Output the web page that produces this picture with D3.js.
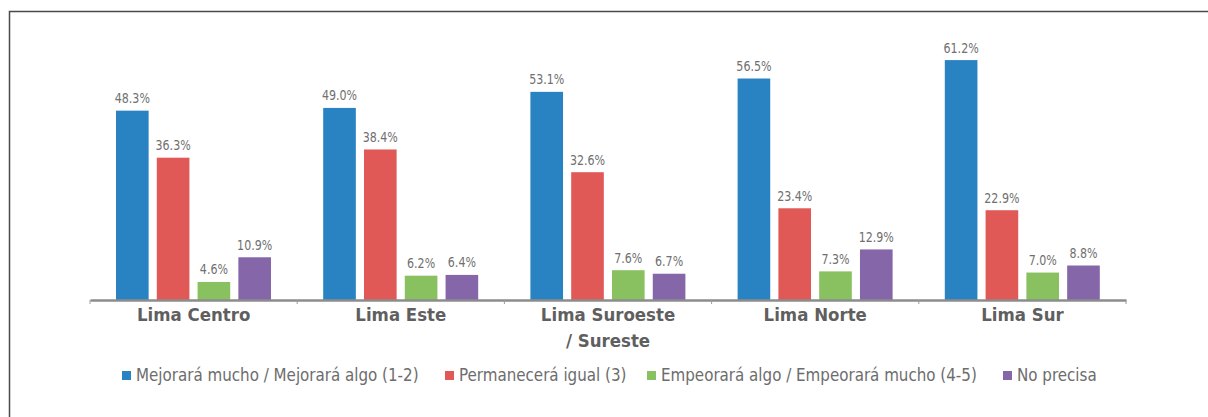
<!DOCTYPE html>
<html><head><meta charset="utf-8">
<script src="https://cdn.jsdelivr.net/npm/d3@7"></script>
<style>body{margin:0;background:#fff}svg{display:block}</style>
</head><body>
<svg id="c" width="1208" height="417"></svg>
<script>
const categories = ["Lima Centro", "Lima Este", "Lima Suroeste / Sureste", "Lima Norte", "Lima Sur"];
const categoryLines = [["Lima Centro"], ["Lima Este"], ["Lima Suroeste", "/ Sureste"], ["Lima Norte"], ["Lima Sur"]];
const seriesNames = ["Mejorará mucho / Mejorará algo (1-2)", "Permanecerá igual (3)", "Empeorará algo / Empeorará mucho (4-5)", "No precisa"];
const mejorara = [48.3, 49.0, 53.1, 56.5, 61.2];
const permanecera = [36.3, 38.4, 32.6, 23.4, 22.9];
const empeorara = [4.6, 6.2, 7.6, 7.3, 7.0];
const noPrecisa = [10.9, 6.4, 6.7, 12.9, 8.8];
const colors = ["#2983C2", "#E05956", "#8AC160", "#8566A9"];
const seriesValues = [mejorara, permanecera, empeorara, noPrecisa];

const svg = d3.select("#c");
const font = "'DejaVu Sans Condensed', 'DejaVu Sans', sans-serif";

function sqText(parent, x, y, sx, txt) {
  return parent.append("text").attr("transform", `translate(${x},${y}) scale(${sx},1)`).text(txt);
}

// frame
svg.append("rect").attr("x", 9.5).attr("y", 11.5).attr("width", 1220).attr("height", 420)
  .attr("fill", "none").attr("stroke", "#4a4a4a").attr("stroke-width", 1.5);

const baseY = 300;
const x0 = d3.scaleBand().domain(categories).range([90, 1126]).padding(0);
const x1 = d3.scaleBand().domain(d3.range(4)).range([26, 181]).paddingInner(0.2).paddingOuter(0);
const y = d3.scaleLinear().domain([0, 70]).range([baseY, baseY - 70 * 3.92]);

const groups = svg.selectAll("g.grp").data(categories).join("g")
  .attr("class", "grp").attr("transform", d => `translate(${x0(d)},0)`);

groups.each(function(cat, ci) {
  const g = d3.select(this);
  seriesValues.forEach((vals, si) => {
    const v = vals[ci];
    g.append("rect").attr("x", x1(si)).attr("y", y(v))
      .attr("width", x1.bandwidth()).attr("height", y(0) - y(v))
      .attr("fill", colors[si]);
    sqText(g, x1(si) + x1.bandwidth() / 2, y(v) - 7.5, 0.88, v.toFixed(1) + "%")
      .attr("text-anchor", "middle").attr("font-family", font).attr("font-size", 14)
      .attr("fill", "#707070");
  });
});

// axis
const axis = d3.axisBottom(x0).tickSize(0).tickFormat("");
const ax = svg.append("g").attr("transform", `translate(0,${baseY})`).call(axis);
ax.select(".domain").attr("stroke", "#8c8c8c").attr("stroke-width", 2.5);
const bounds = categories.map(c => x0(c)).concat([x0.range()[1]]);
svg.selectAll("line.tk").data(bounds).join("line").attr("class", "tk")
  .attr("x1", d => d).attr("x2", d => d).attr("y1", baseY).attr("y2", baseY + 4)
  .attr("stroke", "#9a9a9a").attr("stroke-width", 1);

// category labels
categoryLines.forEach((lines, ci) => {
  const cx = x0(categories[ci]) + x0.bandwidth() / 2;
  lines.forEach((ln, li) => {
    sqText(svg, cx, 321 + li * 25.5, 0.95, ln)
      .attr("text-anchor", "middle").attr("font-family", "'DejaVu Sans', Verdana, sans-serif")
      .attr("font-weight", "bold").attr("font-size", 17.5).attr("fill", "#5f5f5f");
  });
});

// legend
const legendX = [122, 445, 647, 1003];
seriesNames.forEach((n, i) => {
  svg.append("rect").attr("x", legendX[i]).attr("y", 371).attr("width", 9).attr("height", 9).attr("fill", colors[i]);
  sqText(svg, legendX[i] + 14, 380.5, 0.96, n)
    .attr("font-family", font).attr("font-size", 17.5).attr("fill", "#6d6d6d");
});
</script>
</body></html>
